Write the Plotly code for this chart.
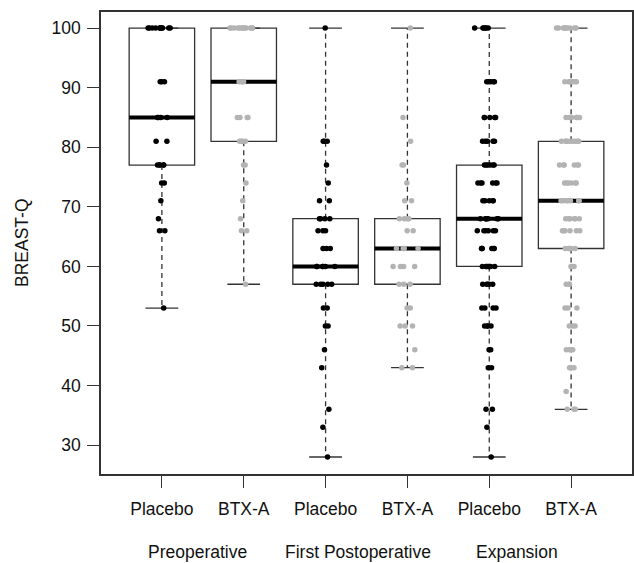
import math
import plotly.graph_objects as go

# ---------------- data (BREAST-Q scores) ----------------
categories = ["Placebo", "BTX-A", "Placebo", "BTX-A", "Placebo", "BTX-A"]
phases = ["Preoperative", "First Postoperative", "Expansion"]

pre_placebo = [53, 66, 66, 68, 71, 74, 74, 77, 77, 77, 77, 77, 81, 81,
               85, 85, 85, 85, 91, 91, 91] + [100] * 11
pre_btx = [57, 66, 66, 68, 71, 74, 77, 77] + [81] * 4 + [85] * 4 + [91] * 4 + [100] * 13
post_placebo = [28, 33, 36, 43, 46, 50, 50, 53, 53] + [57] * 5 + [60] * 6 + [63] * 3 + \
               [66] * 3 + [68] * 4 + [71, 71, 74, 77, 81, 81, 81, 100]
post_btx = [43, 43, 46, 50, 50, 50, 53, 53, 57, 57, 57] + [60] * 4 + [63] * 4 + \
           [66, 66] + [68] * 4 + [71, 71, 74, 77, 77, 81, 85, 100]
exp_placebo = [28, 33, 36, 36, 43, 43, 46, 46] + [50] * 4 + [53] * 4 + [57] * 5 + \
              [60] * 7 + [63] * 6 + [66] * 6 + [68] * 7 + [71] * 5 + [74] * 6 + \
              [77] * 6 + [81] * 5 + [85] * 5 + [91] * 5 + [100] * 6
exp_btx = [36] * 3 + [39] + [43] * 3 + [46] * 3 + [50] * 3 + [53] * 3 + [57] * 3 + \
          [60] * 3 + [63] * 5 + [66] * 6 + [68] * 6 + [71] * 7 + [74] * 6 + \
          [77] * 6 + [81] * 9 + [85] * 6 + [91] * 6 + [100] * 10

groups = [pre_placebo, pre_btx, post_placebo, post_btx, exp_placebo, exp_btx]
y_ticks = [30, 40, 50, 60, 70, 80, 90, 100]

# ---------------- styling ----------------
FONT = "Liberation Sans, Arial, Helvetica, sans-serif"
FS = 17.5
TXT = "#111111"
point_colors = ["#000000", "#b3b3b3"] * 3
BOX_HALF = 0.4
CAP_HALF = 0.2
LINE_COL = "#333333"


def fivenum(v):
    x = sorted(v)
    n = len(x)
    n4 = math.floor((n + 3) / 2) / 2
    d = [1, n4, (n + 1) / 2, n + 1 - n4, n]
    return [0.5 * (x[math.floor(di) - 1] + x[math.ceil(di) - 1]) for di in d]


fig = go.Figure()
shapes = []
for i, vals in enumerate(groups):
    pos = i + 1
    lo, q1, med, q3, hi = fivenum(vals)
    shapes.append(dict(type="rect", xref="x", yref="y", x0=pos - BOX_HALF, x1=pos + BOX_HALF,
                       y0=q1, y1=q3, line=dict(color=LINE_COL, width=1.3), layer="below"))
    shapes.append(dict(type="line", xref="x", yref="y", x0=pos - BOX_HALF, x1=pos + BOX_HALF,
                       y0=med, y1=med, line=dict(color="#000000", width=4), layer="below"))
    for a, b in [(q3, hi), (q1, lo)]:
        if a != b:
            shapes.append(dict(type="line", xref="x", yref="y", x0=pos, x1=pos, y0=a, y1=b,
                               line=dict(color=LINE_COL, width=1.3, dash="5px,4px"), layer="below"))
    for c in (lo, hi):
        shapes.append(dict(type="line", xref="x", yref="y", x0=pos - CAP_HALF, x1=pos + CAP_HALF,
                           y0=c, y1=c, line=dict(color=LINE_COL, width=1.3), layer="below"))

    fig.add_trace(go.Box(
        x=[pos] * len(vals), y=vals, boxpoints="all", jitter=0.45, pointpos=0, width=0.8,
        line=dict(color="rgba(0,0,0,0)", width=0), fillcolor="rgba(0,0,0,0)",
        marker=dict(color=point_colors[i], size=5.5, line=dict(width=0)),
        showlegend=False, hoverinfo="y",
    ))

phase_x = [1.44, 3.40, 5.335]
annotations = []
for name, px in zip(phases, phase_x):
    annotations.append(dict(text=name, x=px, xref="x", y=0, yref="paper", yanchor="middle",
                            yshift=-77.7, showarrow=False,
                            font=dict(family=FONT, size=FS, color=TXT)))
annotations.append(dict(text="BREAST-Q", x=0, xref="paper", xshift=-79, xanchor="center",
                        y=0.5, yref="paper", yanchor="middle", textangle=-90, showarrow=False,
                        font=dict(family=FONT, size=FS, color=TXT)))

fig.update_layout(
    width=634, height=563,
    margin=dict(l=101, r=2, t=12, b=89),
    plot_bgcolor="white", paper_bgcolor="white",
    shapes=shapes, annotations=annotations,
    font=dict(family=FONT, size=FS, color=TXT),
    showlegend=False,
)
fig.update_xaxes(
    range=[0.256, 6.744], tickvals=list(range(1, 7)), ticktext=categories,
    showgrid=False, zeroline=False, showline=True, mirror=True, automargin=False,
    linecolor=LINE_COL, linewidth=1.5, ticks="outside", ticklen=12, tickwidth=1.3,
    tickcolor=LINE_COL, ticklabelstandoff=6,
    tickfont=dict(family=FONT, size=FS, color=TXT),
)
fig.update_yaxes(
    range=[25.15, 102.7], tickvals=y_ticks, ticktext=[str(t) for t in y_ticks],
    showgrid=False, zeroline=False, showline=True, mirror=True, automargin=False,
    linecolor=LINE_COL, linewidth=1.5, ticks="outside", ticklen=12, tickwidth=1.3,
    tickcolor=LINE_COL, ticklabelstandoff=3,
    tickfont=dict(family=FONT, size=FS, color=TXT),
)

fig.write_html("out.html", config={"displayModeBar": False},
               post_script="document.body.style.margin='0';")
